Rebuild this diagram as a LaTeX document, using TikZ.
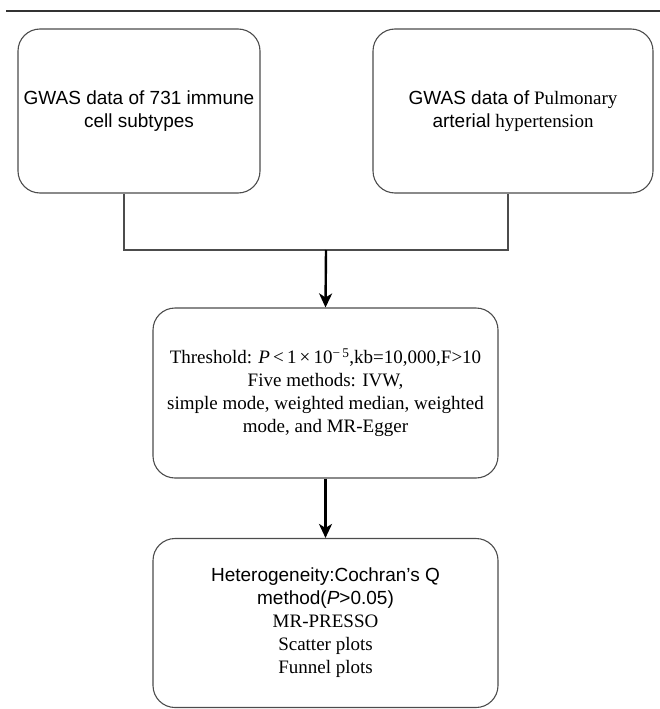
\documentclass[tikz,border=0pt]{standalone}
\usepackage{fontspec}
\setmainfont{Liberation Serif}
\setsansfont{Liberation Sans}
\usetikzlibrary{arrows.meta}
\begin{document}
\begin{tikzpicture}[x=1pt,y=1pt,
  box/.style={draw=black!70, line width=1.1pt, rounded corners=22pt, align=center,
    font=\fontsize{19}{23}\selectfont, inner sep=0pt},
  link/.style={draw=black!70, line width=1.1pt},
  flow/.style={draw=black, line width=2.4pt, -{Stealth[length=14pt,width=13pt,inset=4pt]}}]
\useasboundingbox (0,0) rectangle (660,-709);
\draw[line width=2pt, black!80] (6,-11) -- (660,-11);
\node[box, minimum width=242pt, minimum height=164pt] (L) at (139,-111)
  {\sffamily GWAS data of 731 immune\\\sffamily cell subtypes};
\node[box, minimum width=280pt, minimum height=164pt] (R) at (513,-111)
  {{\sffamily GWAS data of} Pulmonary\\{\sffamily arterial} hypertension};
\node[box, minimum width=345pt, minimum height=170pt] (M) at (325.5,-393)
  {Threshold: \textit{P}\,<\,1\,×\,10\textsuperscript{−\,5},kb=10,000,F>10\\
   Five methods: IVW,\\
   simple mode, weighted median, weighted\\
   mode, and MR-Egger};
\node[box, minimum width=345pt, minimum height=169pt] (B) at (325.5,-623)
  {{\sffamily Heterogeneity:Cochran{\char"27}s Q}\\
   {\sffamily method(\textit{P}>0.05)}\\
   MR-PRESSO\\
   Scatter plots\\
   Funnel plots};
\coordinate (J) at (326,-250);
\draw[link] ([xshift=-15pt]L.south) |- (J) -| ([xshift=-5pt]R.south);
\draw[flow] (J) -- (M.north);
\draw[flow] (M.south) -- (B.north);
\end{tikzpicture}
\end{document}
